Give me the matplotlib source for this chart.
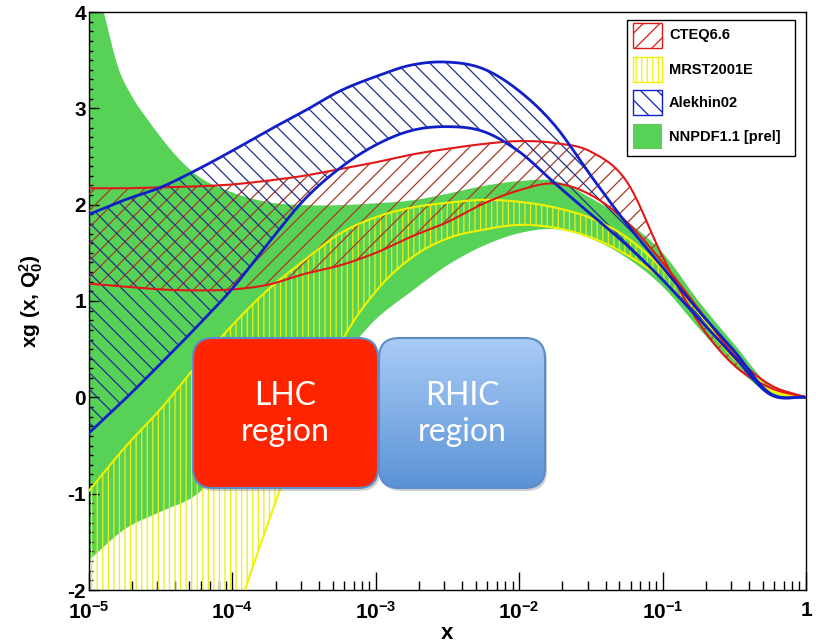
import numpy as np
import matplotlib
matplotlib.use("Agg")
import matplotlib.pyplot as plt
from matplotlib.patches import FancyBboxPatch, Rectangle
from matplotlib.colors import LinearSegmentedColormap
from matplotlib.ticker import FixedLocator, MultipleLocator

plt.rcParams["font.family"] = ["Liberation Sans", "DejaVu Sans"]
plt.rcParams["font.weight"] = "bold"
plt.rcParams["mathtext.fontset"] = "custom"
plt.rcParams["mathtext.rm"] = "Liberation Sans:bold"
plt.rcParams["mathtext.it"] = "Liberation Sans:bold"
plt.rcParams["mathtext.bf"] = "Liberation Sans:bold"
plt.rcParams["axes.unicode_minus"] = False
plt.rcParams["hatch.linewidth"] = 0.9

# log10(x) grid shared by the bands
log_x = [-5.0, -4.75, -4.5, -4.25, -4.0, -3.75, -3.5, -3.25, -3.0, -2.75, -2.5,
         -2.25, -2.0, -1.75, -1.5, -1.25, -1.0, -0.75, -0.5, -0.25, 0.0]

cteq_hi = [2.17, 2.17, 2.18, 2.19, 2.21, 2.25, 2.30, 2.37, 2.44, 2.52, 2.58,
           2.63, 2.66, 2.64, 2.55, 2.24, 1.46, 0.78, 0.33, 0.10, 0.00]
cteq_lo = [1.18, 1.15, 1.12, 1.11, 1.12, 1.17, 1.28, 1.37, 1.50, 1.67, 1.82,
           2.01, 2.15, 2.22, 2.10, 1.82, 1.40, 0.92, 0.44, 0.13, 0.00]

mrst_hi = [-0.97, -0.52, -0.12, 0.33, 0.75, 1.12, 1.42, 1.70, 1.87, 1.97, 2.02,
           2.05, 2.03, 1.97, 1.86, 1.66, 1.33, 0.88, 0.44, 0.09, 0.00]
mrst_lo = [-9.0, -7.4, -5.8, -4.1, -2.45, -1.30, -0.30, 0.55, 1.10, 1.45, 1.65,
           1.74, 1.79, 1.76, 1.66, 1.48, 1.22, 0.82, 0.40, 0.07, 0.00]

alek_hi = [1.90, 2.05, 2.18, 2.36, 2.56, 2.77, 2.97, 3.18, 3.33, 3.45, 3.48,
           3.41, 3.18, 2.82, 2.30, 1.80, 1.35, 0.90, 0.48, 0.04, 0.00]
alek_lo = [-0.37, -0.02, 0.35, 0.73, 1.13, 1.60, 2.05, 2.38, 2.62, 2.77, 2.81,
           2.76, 2.55, 2.22, 1.90, 1.58, 1.22, 0.82, 0.42, 0.03, 0.00]

nnpdf_lo = [-1.68, -1.36, -1.18, -1.00, -0.60, -0.15, 0.15, 0.42, 0.82, 1.11, 1.38,
            1.58, 1.71, 1.75, 1.65, 1.45, 1.15, 0.72, 0.33, 0.04, 0.00]
# the NNPDF upper edge turns sharply at small x, so it has its own finer grid there
nnpdf_hi_x = [-5.0, -4.9, -4.8, -4.7, -4.6, -4.5, -4.4, -4.25, -4.0, -3.75, -3.5,
              -3.25, -3.0, -2.75, -2.5, -2.25, -2.0, -1.75, -1.5, -1.25, -1.0,
              -0.75, -0.5, -0.25, 0.0]
nnpdf_hi = [4.55, 4.00, 3.43, 3.12, 2.90, 2.70, 2.52, 2.31, 2.13, 2.03, 2.00,
            2.00, 2.02, 2.05, 2.12, 2.20, 2.25, 2.25, 2.07, 1.83, 1.50,
            1.00, 0.55, 0.12, 0.00]

labels = ["CTEQ6.6", "MRST2001E", "Alekhin02", "NNPDF1.1 [prel]"]


def smooth(lx, y, n=16):
    # cubic Hermite curve through the points in log-x
    lx = np.asarray(lx, float)
    y = np.asarray(y, float)
    m = np.gradient(y, lx)
    xs, ys = [], []
    t = np.linspace(0, 1, n, endpoint=False)
    h00 = 2 * t**3 - 3 * t**2 + 1
    h10 = t**3 - 2 * t**2 + t
    h01 = -2 * t**3 + 3 * t**2
    h11 = t**3 - t**2
    for i in range(len(y) - 1):
        h = lx[i + 1] - lx[i]
        ys.append(h00 * y[i] + h10 * h * m[i] + h01 * y[i + 1] + h11 * h * m[i + 1])
        xs.append(lx[i] + t * h)
    xs.append([lx[-1]])
    ys.append([y[-1]])
    return np.concatenate(xs), np.concatenate(ys)


fig = plt.figure(figsize=(8.16, 6.44), dpi=100)
ax = fig.add_axes([89 / 816, 1 - 590 / 644, 717 / 816, 578 / 644])

green = "#57D257"
lx_lo, lo = smooth(log_x, nnpdf_lo)
lx_hi, hi = smooth(nnpdf_hi_x, nnpdf_hi)
hi = np.interp(lx_lo, lx_hi, hi)
ax.fill_between(10 ** lx_lo, lo, hi, color=green, lw=0, zorder=1)

bands = [
    (mrst_lo, mrst_hi, "|||", "#EEEE10", "#F2F200", 1.5, 2),
    (cteq_lo, cteq_hi, "//", "#A83A28", "#E01818", 1.5, 3),
    (alek_lo, alek_hi, "\\\\", "#20308E", "#1020C8", 2.0, 4),
]
for lo_v, hi_v, hatch, hcol, lcol, lw, z in bands:
    lx, lo = smooth(log_x, lo_v)
    _, hi = smooth(log_x, hi_v)
    x = 10 ** lx
    ax.fill_between(x, lo, hi, facecolor="none", edgecolor=hcol, hatch=hatch,
                    lw=0, zorder=z)
    ax.plot(x, lo, color=lcol, lw=lw, zorder=z + 4)
    ax.plot(x, hi, color=lcol, lw=lw, zorder=z + 4)

ax.set_xscale("log")
ax.set_xlim(1e-5, 1)
ax.set_ylim(-2, 4)
ax.set_xticks([1e-5, 1e-4, 1e-3, 1e-2, 1e-1, 1])
ax.set_xticklabels([r"$10^{-5}$", r"$10^{-4}$", r"$10^{-3}$", r"$10^{-2}$",
                    r"$10^{-1}$", "1"])
ax.yaxis.set_major_locator(FixedLocator([-2, -1, 0, 1, 2, 3, 4]))
ax.yaxis.set_minor_locator(MultipleLocator(0.1))
ax.tick_params(axis="both", which="both", direction="in", top=False, right=False,
               labelsize=15, width=1.0)
ax.tick_params(axis="x", which="major", length=13, pad=8)
ax.tick_params(axis="x", which="minor", length=6.5)
ax.tick_params(axis="y", which="major", length=7, pad=2)
ax.tick_params(axis="y", which="minor", length=3)
for s in ax.spines.values():
    s.set_linewidth(1.0)
ax.set_xlabel("x", fontsize=16, fontweight="bold", labelpad=0)
ax.set_ylabel(r"xg (x, Q$_0^2$)", fontsize=15, fontweight="bold", labelpad=16)

# legend box
ax.add_patch(Rectangle((0.750, 0.751), 0.235, 0.235, transform=ax.transAxes,
                       facecolor="white", edgecolor="black", lw=1.0, zorder=20))
rows = [0.960, 0.900, 0.843, 0.784]
styles = [("//", "#E01818"), ("|||", "#F2F200"), ("\\\\", "#1020C8"), (None, green)]
for yc, (hatch, col), lab in zip(rows, styles, labels):
    if hatch is None:
        ax.add_patch(Rectangle((0.759, yc - 0.0215), 0.040, 0.043, transform=ax.transAxes,
                               facecolor=col, edgecolor=col, lw=0, zorder=21))
    else:
        ax.add_patch(Rectangle((0.759, yc - 0.0215), 0.040, 0.043, transform=ax.transAxes,
                               facecolor="white", edgecolor=col, hatch=hatch, lw=1.0,
                               zorder=21))
    ax.text(0.809, yc, lab, transform=ax.transAxes, fontsize=10.5, fontweight="bold",
            va="center", ha="left", zorder=22)

# LHC / RHIC region boxes, drawn in figure pixel units
ov = fig.add_axes([0, 0, 1, 1], zorder=5)
ov.set_axis_off()
ov.patch.set_visible(False)


def region_box(x0, x1, y0, y1, face, text):
    r = 20
    shadow = FancyBboxPatch((x0 + r + 2, y0 + r + 3), x1 - x0 - 2 * r, y1 - y0 - 2 * r,
                            boxstyle=f"round,pad={r}", facecolor="black", alpha=0.18,
                            lw=0, zorder=1)
    ov.add_patch(shadow)
    solid = isinstance(face, str)
    box = FancyBboxPatch((x0 + r, y0 + r), x1 - x0 - 2 * r, y1 - y0 - 2 * r,
                         boxstyle=f"round,pad={r}", facecolor=face if solid else "none",
                         edgecolor="#5B8CC8", lw=1.5, zorder=3)
    ov.add_patch(box)
    if not solid:
        cmap = LinearSegmentedColormap.from_list("grad", face)
        im = ov.imshow(np.linspace(0, 1, 256).reshape(-1, 1), cmap=cmap,
                       extent=(x0, x1, y1, y0), aspect="auto", zorder=2)
        im.set_clip_path(box)
    ov.text((x0 + x1) / 2, (y0 + y1) / 2 + 1, text, ha="center", va="center",
            color="white", fontsize=23, family=["Lato", "DejaVu Sans"],
            fontweight="normal", linespacing=1.25, zorder=4)


region_box(193, 378, 338, 488, "#FF2400", "LHC\nregion")
region_box(379, 545, 338, 488, ["#A9CCF6", "#5B93D6"], "RHIC\nregion")
ov.set_xlim(0, 816)
ov.set_ylim(644, 0)

fig.savefig("out.png", dpi=100)
